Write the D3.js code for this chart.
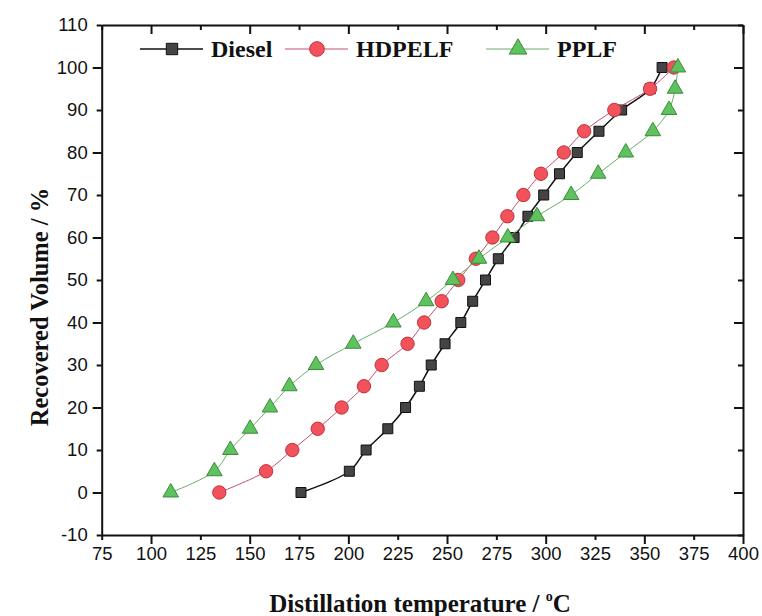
<!DOCTYPE html>
<html>
<head>
<meta charset="utf-8">
<title>Distillation curves</title>
<script src="https://cdn.jsdelivr.net/npm/d3@7"></script>
<style>
  body { margin: 0; background: #fff; }
  svg { display: block; }
</style>
</head>
<body>
<div id="chart"></div>
<script>
// recovered volume steps (%), shared by all three fuels
const recovered = [0, 5, 10, 15, 20, 25, 30, 35, 40, 45, 50, 55, 60, 65, 70, 75, 80, 85, 90, 95, 100];

// distillation temperatures (°C)
const diesel = [176, 200.5, 209, 220, 229, 236, 242, 249, 257, 263, 269.5, 276, 284, 291, 299, 307, 316, 327, 338.5, 353, 359];
const hdpelf = [134.6, 158.3, 171.6, 184.5, 196.6, 207.9, 216.9, 230, 238.4, 247.3, 255.7, 264.6, 273, 280.6, 288.7, 297.6, 309.2, 319.5, 334.8, 352.9, 365];
const pplf = [110, 132.1, 140.2, 150.2, 160.3, 170.1, 183.6, 202.5, 222.8, 239.4, 253, 266.2, 280.8, 295.6, 312.9, 326.6, 340.6, 354.3, 362.5, 365.6, 367];

const seriesNames = ["Diesel", "HDPELF", "PPLF"];
const xTicks = [75, 100, 125, 150, 175, 200, 225, 250, 275, 300, 325, 350, 375, 400];
const yTicks = [-10, 0, 10, 20, 30, 40, 50, 60, 70, 80, 90, 100, 110];

const W = 762, H = 616;
const plotL = 101.7, plotR = 743, plotT = 25, plotB = 535;

const svg = d3.select("#chart").append("svg")
    .attr("width", W).attr("height", H);

const x = d3.scaleLinear().domain([75, 400]).range([plotL, plotR]);
const y = d3.scaleLinear().domain([-10, 110]).range([plotB, plotT]);

const tickFont = "'Liberation Sans', Arial, sans-serif";
const titleFont = "'Liberation Serif', 'Times New Roman', serif";
const plain = d => String(d); // keeps the hyphen in "-10"

// ticks: majors every 50 / 20, minors between
const isMajorX = v => v % 50 === 0;
const isMajorY = v => v % 20 === 0;

// bottom axis
const xAxis = d3.axisBottom(x).tickValues(xTicks).tickFormat(plain).tickSizeOuter(0).tickPadding(6);
const gx = svg.append("g").attr("transform", `translate(0,${plotB})`).call(xAxis);
gx.selectAll(".tick line").attr("y2", d => isMajorX(d) ? 9 : 5);

// left axis
const yAxis = d3.axisLeft(y).tickValues(yTicks).tickFormat(plain).tickSizeOuter(0).tickPadding(8);
const gy = svg.append("g").attr("transform", `translate(${plotL},0)`).call(yAxis);
gy.selectAll(".tick line").attr("x2", d => isMajorY(d) ? -9 : -5);

// top and right axes, ticks pointing in
const gt = svg.append("g").attr("transform", `translate(0,${plotT})`)
    .call(d3.axisBottom(x).tickValues(xTicks).tickSizeOuter(0).tickFormat(""));
gt.selectAll(".tick line").attr("y2", d => isMajorX(d) ? 9 : 5);
const gr = svg.append("g").attr("transform", `translate(${plotR},0)`)
    .call(d3.axisLeft(y).tickValues(yTicks).tickSizeOuter(0).tickFormat(""));
gr.selectAll(".tick line").attr("x2", d => isMajorY(d) ? -9 : -5);

svg.selectAll(".domain").attr("stroke", "#111").attr("stroke-width", 2);
svg.selectAll(".tick line").attr("stroke", "#111").attr("stroke-width", 2);
svg.selectAll(".tick text").attr("font-family", tickFont).attr("font-size", 18.5).attr("fill", "#111");

const styles = {
  Diesel: { values: diesel, line: "#111", lw: 1.5, fill: "#444", stroke: "#111", shape: d3.symbolSquare, size: 100 },
  HDPELF: { values: hdpelf, line: "#c4506e", lw: 1, fill: "#f2525a", stroke: "#c23040", shape: d3.symbolCircle, size: 140 },
  PPLF: { values: pplf, line: "#6aae6a", lw: 1, fill: "#5ec25e", stroke: "#3c8c3c", shape: d3.symbolTriangle, size: 105 }
};

const line = d3.line()
    .x(d => x(d[0])).y(d => y(d[1]))
    .curve(d3.curveCatmullRom);

// draw in order so that triangles sit on top like in the picture
seriesNames.forEach(name => {
  const s = styles[name];
  const pts = s.values.map((t, i) => [t, recovered[i]]);
  svg.append("path").datum(pts)
      .attr("fill", "none").attr("stroke", s.line).attr("stroke-width", s.lw)
      .attr("d", line);
  svg.append("g").selectAll("path").data(pts).join("path")
      .attr("transform", d => `translate(${x(d[0])},${y(d[1])})`)
      .attr("d", d3.symbol(s.shape, s.size))
      .attr("fill", s.fill).attr("stroke", s.stroke).attr("stroke-width", 1);
});

// legend
const legendX = [140, 285, 486];
const legendY = 49;
seriesNames.forEach((name, i) => {
  const s = styles[name];
  const g = svg.append("g").attr("transform", `translate(${legendX[i]},${legendY})`);
  g.append("line").attr("x1", 0).attr("x2", 63).attr("y1", 0).attr("y2", 0)
      .attr("stroke", s.line).attr("stroke-width", s.lw);
  g.append("path").attr("transform", "translate(32,0)")
      .attr("d", d3.symbol(s.shape, s.size + 30))
      .attr("fill", s.fill).attr("stroke", s.stroke);
  g.append("text").attr("x", 71).attr("y", 8)
      .attr("font-family", titleFont).attr("font-weight", "bold").attr("font-size", 24)
      .attr("fill", "#111").text(name);
});

// axis titles
svg.append("text")
    .attr("transform", "translate(48,307) rotate(-90)")
    .attr("text-anchor", "middle")
    .attr("font-family", titleFont).attr("font-weight", "bold").attr("font-size", 24.5)
    .attr("fill", "#111")
    .text("Recovered Volume / %");

const xt = svg.append("text")
    .attr("x", 420).attr("y", 612)
    .attr("text-anchor", "middle")
    .attr("font-family", titleFont).attr("font-weight", "bold").attr("font-size", 25)
    .attr("fill", "#111");
xt.append("tspan").text("Distillation temperature / ");
xt.append("tspan").attr("font-size", 14).attr("dy", -11).text("o");
xt.append("tspan").attr("dy", 11).text("C");
</script>
</body>
</html>
